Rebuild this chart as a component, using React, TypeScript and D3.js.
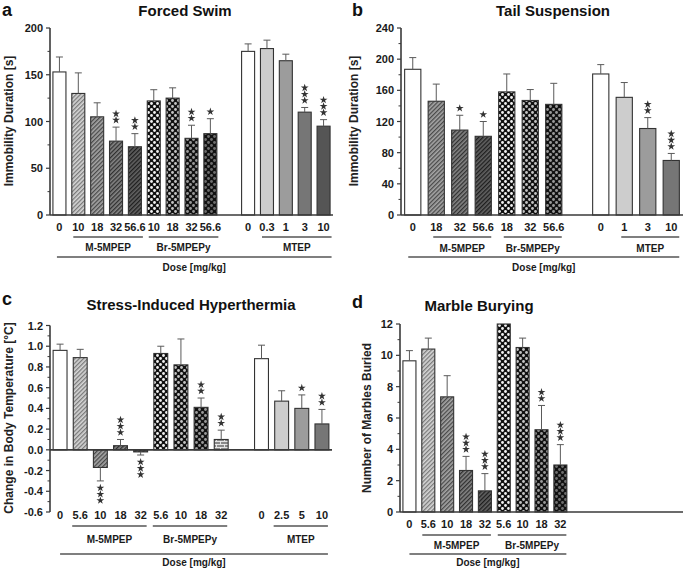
import React from "react";
import * as d3 from "d3";

const FONT = "'Liberation Sans', Arial, Helvetica, sans-serif";

// ---------- Panel a: Forced Swim ----------
const aDoses = ["0", "10", "18", "32", "56.6", "10", "18", "32", "56.6", "", "0", "0.3", "1", "3", "10"];
const aMeans = [153, 130, 105, 79, 73, 122, 125, 82, 87, null, 175, 178, 165, 110, 95];
const aErrTop = [169, 152, 120, 94, 87, 134, 136, 96, 103, null, 183, 187, 172, 115, 102];
const aStars = [0, 0, 0, 2, 2, 0, 0, 2, 1, 0, 0, 0, 0, 3, 3];
const aFills = ["white", "m1", "m2", "m3", "m4", "b1", "b2", "b3", "b4", "", "white", "g1", "g2", "g3", "g4"];
const aTicks = [0, 50, 100, 150, 200];

// ---------- Panel b: Tail Suspension ----------
const bDoses = ["0", "18", "32", "56.6", "18", "32", "56.6", "", "0", "1", "3", "10"];
const bMeans = [187, 146, 109, 101, 158, 147, 142, null, 181, 151, 111, 70];
const bErrTop = [202, 168, 128, 120, 181, 161, 169, null, 193, 170, 125, 79];
const bStars = [0, 0, 1, 1, 0, 0, 0, 0, 0, 0, 2, 3];
const bFills = ["white", "m2", "m3", "m4", "b1", "b2", "b3", "", "white", "g1", "g2", "g3"];
const bTicks = [0, 40, 80, 120, 160, 200, 240];

// ---------- Panel c: Stress-Induced Hyperthermia ----------
const cDoses = ["0", "5.6", "10", "18", "32", "5.6", "10", "18", "32", "", "0", "2.5", "5", "10"];
const cMeans = [0.96, 0.89, -0.17, 0.04, -0.02, 0.93, 0.82, 0.41, 0.1, null, 0.88, 0.47, 0.4, 0.25];
const cErrEnd = [1.02, 0.97, -0.3, 0.1, -0.05, 1.0, 1.07, 0.5, 0.19, null, 1.01, 0.57, 0.53, 0.39];
const cStars = [0, 0, 3, 3, 3, 0, 0, 2, 2, 0, 0, 0, 1, 2];
const cFills = ["white", "m1", "m2", "m3", "m4", "b1", "b2", "b3", "brick", "", "white", "g1", "g2", "g3"];
const cTicks = [-0.6, -0.4, -0.2, 0, 0.2, 0.4, 0.6, 0.8, 1.0, 1.2];

// ---------- Panel d: Marble Burying ----------
const dDoses = ["0", "5.6", "10", "18", "32", "5.6", "10", "18", "32"];
const dMeans = [9.65, 10.4, 7.35, 2.65, 1.35, 12.0, 10.5, 5.25, 3.0];
const dErrTop = [10.3, 11.1, 8.7, 3.55, 2.45, 12.0, 11.1, 6.8, 4.3];
const dStars = [0, 0, 0, 3, 3, 0, 0, 2, 3];
const dFills = ["white", "m1", "m2", "m3", "m4", "b1", "b2", "b3", "b4"];
const dTicks = [0, 2, 4, 6, 8, 10, 12];

type Group = { label: string; from: number; to: number };

type Cfg = {
  id: string;
  letter: string;
  title: string;
  yLabel: string;
  doses: string[];
  means: (number | null)[];
  errs: (number | null)[];
  stars: number[];
  fills: string[];
  ticks: number[];
  decimals: number;
  slots: number;
  x0: number;
  x1: number;
  yTop: number;
  yBottom: number;
  groups: Group[];
  letterPos: [number, number];
  titlePos: [number, number];
  yLabelPos: [number, number];
  tickLabelY: number;
  groupLineY: number;
  groupLabelY: number;
  doseLineY: number;
  doseLabelY: number;
  padL: number;
  padR: number;
  doseStart: number;
};

const panels: Cfg[] = [
  {
    id: "a", letter: "a", title: "Forced Swim", yLabel: "Immobility Duration [s]",
    doses: aDoses, means: aMeans, errs: aErrTop, stars: aStars, fills: aFills, ticks: aTicks, decimals: 0,
    slots: 15, x0: 50, x1: 333, yTop: 28, yBottom: 215,
    groups: [{ label: "M-5MPEP", from: 1, to: 4 }, { label: "Br-5MPEPy", from: 5, to: 8 }, { label: "MTEP", from: 11, to: 14 }],
    letterPos: [2, 16], titlePos: [185, 16], yLabelPos: [9, 121],
    tickLabelY: 231, groupLineY: 237, groupLabelY: 251, doseLineY: 257, doseLabelY: 271,
    padL: 5, padR: 8, doseStart: 2.5,
  },
  {
    id: "b", letter: "b", title: "Tail Suspension", yLabel: "Immobility Duration [s]",
    doses: bDoses, means: bMeans, errs: bErrTop, stars: bStars, fills: bFills, ticks: bTicks, decimals: 0,
    slots: 12, x0: 401, x1: 683, yTop: 28, yBottom: 215,
    groups: [{ label: "M-5MPEP", from: 1, to: 3 }, { label: "Br-5MPEPy", from: 4, to: 6 }, { label: "MTEP", from: 9, to: 11 }],
    letterPos: [352, 16], titlePos: [553, 16], yLabelPos: [354, 121],
    tickLabelY: 231, groupLineY: 237, groupLabelY: 252, doseLineY: 257, doseLabelY: 271,
    padL: 3, padR: 8, doseStart: 4.5,
  },
  {
    id: "c", letter: "c", title: "Stress-Induced Hyperthermia", yLabel: "Change in Body Temperature [°C]",
    doses: cDoses, means: cMeans, errs: cErrEnd, stars: cStars, fills: cFills, ticks: cTicks, decimals: 1,
    slots: 14, x0: 50, x1: 332, yTop: 325.5, yBottom: 512,
    groups: [{ label: "M-5MPEP", from: 1, to: 4 }, { label: "Br-5MPEPy", from: 5, to: 8 }, { label: "MTEP", from: 11, to: 13 }],
    letterPos: [2, 305], titlePos: [191, 310], yLabelPos: [9, 418],
    tickLabelY: 519, groupLineY: 526, groupLabelY: 543, doseLineY: 554, doseLabelY: 566,
    padL: 8, padR: 6, doseStart: 0,
  },
  {
    id: "d", letter: "d", title: "Marble Burying", yLabel: "Number of Marbles Buried",
    doses: dDoses, means: dMeans, errs: dErrTop, stars: dStars, fills: dFills, ticks: dTicks, decimals: 0,
    slots: 15, x0: 400, x1: 683, yTop: 324, yBottom: 512,
    groups: [{ label: "M-5MPEP", from: 1, to: 4 }, { label: "Br-5MPEPy", from: 5, to: 8 }],
    letterPos: [352, 308], titlePos: [479, 311], yLabelPos: [367, 418],
    tickLabelY: 528, groupLineY: 535, groupLabelY: 549, doseLineY: 554, doseLabelY: 566,
    padL: 6, padR: 6, doseStart: 0,
  },
];

const starPath = d3.symbol().type(d3.symbolStar).size(19)() as string;

function fillFor(f: string) {
  if (f === "white") return "#ffffff";
  if (f === "g1") return "#cdcdcd";
  if (f === "g2") return "#9c9c9c";
  if (f === "g3") return "#767676";
  if (f === "g4") return "#555555";
  return `url(#pat-${f})`;
}

function Defs() {
  const hatch = [
    ["m1", "#d6d6d6", "#7a7a7a"],
    ["m2", "#a6a6a6", "#4a4a4a"],
    ["m3", "#858585", "#303030"],
    ["m4", "#626262", "#1e1e1e"],
  ];
  const dots = [
    ["b1", "#f2f2f2"],
    ["b2", "#c4c4c4"],
    ["b3", "#9a9a9a"],
    ["b4", "#6e6e6e"],
  ];
  return (
    <defs>
      {hatch.map(([id, bg, fg]) => (
        <pattern key={id} id={`pat-${id}`} patternUnits="userSpaceOnUse" width={3} height={3} patternTransform="rotate(45)">
          <rect width={3} height={3} fill={bg} />
          <rect width={1.3} height={3} fill={fg} />
        </pattern>
      ))}
      {dots.map(([id, dc]) => (
        <pattern key={id} id={`pat-${id}`} patternUnits="userSpaceOnUse" width={6} height={6}>
          <rect width={6} height={6} fill="#111" />
          <circle cx={1.5} cy={1.5} r={1.4} fill={dc} />
          <circle cx={4.5} cy={4.5} r={1.4} fill={dc} />
        </pattern>
      ))}
      <pattern id="pat-brick" patternUnits="userSpaceOnUse" width={8} height={6}>
        <rect width={8} height={6} fill="#8a8a8a" />
        <rect x={0} y={0} width={8} height={0.9} fill="#eee" />
        <rect x={0} y={3} width={8} height={0.9} fill="#eee" />
        <rect x={0} y={0} width={0.9} height={3} fill="#eee" />
        <rect x={4} y={3} width={0.9} height={3} fill="#eee" />
      </pattern>
    </defs>
  );
}

function Panel({ cfg }: { cfg: Cfg }) {
  const x = d3.scaleBand<number>().domain(d3.range(cfg.slots)).range([cfg.x0, cfg.x1]);
  const dom = d3.extent(cfg.ticks) as [number, number];
  const y = d3.scaleLinear().domain(dom).range([cfg.yBottom, cfg.yTop]);
  const bw = x.bandwidth() * 0.69;
  const cx = (i: number) => (x(i) as number) + x.bandwidth() / 2;
  const y0 = y(0);
  const tickStep = cfg.ticks[1] - cfg.ticks[0];
  const minors = cfg.ticks.slice(0, -1).map((t) => t + tickStep / 2);
  const axisColor = "#3a3a3a";
  const lastGroup = cfg.groups[cfg.groups.length - 1];
  const doseX0 = cx(0) - cfg.doseStart;
  const doseX1 = cx(lastGroup.to) + cfg.padR;
  const fmt = (v: number) => (cfg.decimals ? v.toFixed(cfg.decimals) : String(v));

  return (
    <g>
      <text x={cfg.letterPos[0]} y={cfg.letterPos[1]} fontFamily={FONT} fontWeight="bold" fontSize={18} fill="#111">
        {cfg.letter}
      </text>
      <text x={cfg.titlePos[0]} y={cfg.titlePos[1]} textAnchor="middle" fontFamily={FONT} fontWeight="bold" fontSize={15} fill="#111">
        {cfg.title}
      </text>
      <text
        transform={`translate(${cfg.yLabelPos[0]},${cfg.yLabelPos[1]}) rotate(-90)`}
        textAnchor="middle"
        dominantBaseline="central"
        fontFamily={FONT}
        fontWeight="bold"
        fontSize={12}
        fill="#222"
      >
        {cfg.yLabel}
      </text>

      {/* bars */}
      {cfg.means.map((m, i) => {
        if (m === null || m === undefined) return null;
        const top = Math.min(y(m), y0);
        const h = Math.abs(y(m) - y0);
        return (
          <rect key={`bar${i}`} x={cx(i) - bw / 2} y={top} width={bw} height={h} fill={fillFor(cfg.fills[i])} stroke="#333" strokeWidth={1.1} />
        );
      })}

      {/* error bars */}
      {cfg.means.map((m, i) => {
        const e = cfg.errs[i];
        if (m === null || e === null || e === m) return null;
        return (
          <g key={`err${i}`} stroke="#5a5a5a" strokeWidth={1}>
            <line x1={cx(i)} x2={cx(i)} y1={y(m)} y2={y(e)} />
            <line x1={cx(i) - 3.5} x2={cx(i) + 3.5} y1={y(e)} y2={y(e)} />
          </g>
        );
      })}

      {/* significance stars */}
      {cfg.stars.map((n, i) => {
        const m = cfg.means[i];
        const e = cfg.errs[i];
        if (!n || m === null || e === null) return null;
        const dir = e < m || (e === m && m < 0) ? 1 : -1;
        const base = y(e);
        return (
          <g key={`st${i}`} fill="#333">
            {d3.range(n).map((k) => (
              <path key={k} d={starPath} transform={`translate(${cx(i)},${base + dir * (7 + k * 6.3)})`} />
            ))}
          </g>
        );
      })}

      {/* y axis */}
      <line x1={cfg.x0} x2={cfg.x0} y1={y(dom[0])} y2={y(dom[1])} stroke={axisColor} strokeWidth={1.6} />
      {cfg.ticks.map((t) => (
        <g key={`yt${t}`}>
          <line x1={cfg.x0 - 4} x2={cfg.x0} y1={y(t)} y2={y(t)} stroke={axisColor} strokeWidth={1.2} />
          <text x={cfg.x0 - 7} y={y(t)} textAnchor="end" dominantBaseline="central" fontFamily={FONT} fontWeight="bold" fontSize={11} fill="#1a1a1a">
            {fmt(t)}
          </text>
        </g>
      ))}
      {minors.map((t) => (
        <line key={`ym${t}`} x1={cfg.x0 - 2.5} x2={cfg.x0} y1={y(t)} y2={y(t)} stroke={axisColor} strokeWidth={1} />
      ))}

      {/* x axis at zero */}
      <line x1={cfg.x0} x2={cfg.x1} y1={y0} y2={y0} stroke={axisColor} strokeWidth={1.6} />

      {/* dose tick labels */}
      {cfg.doses.map((dlab, i) =>
        dlab ? (
          <text key={`xl${i}`} x={cx(i)} y={cfg.tickLabelY} textAnchor="middle" fontFamily={FONT} fontWeight="bold" fontSize={11} fill="#1a1a1a">
            {dlab}
          </text>
        ) : null
      )}

      {/* compound groups */}
      {cfg.groups.map((g) => {
        const gx0 = cx(g.from) - cfg.padL;
        const gx1 = cx(g.to) + cfg.padR;
        return (
          <g key={g.label}>
            <line x1={gx0} x2={gx1} y1={cfg.groupLineY} y2={cfg.groupLineY} stroke="#555" strokeWidth={1.4} />
            <text x={(gx0 + gx1) / 2} y={cfg.groupLabelY} textAnchor="middle" fontFamily={FONT} fontWeight="bold" fontSize={10} fill="#1a1a1a">
              {g.label}
            </text>
          </g>
        );
      })}

      <line x1={doseX0} x2={doseX1} y1={cfg.doseLineY} y2={cfg.doseLineY} stroke="#555" strokeWidth={1.4} />
      <text x={(doseX0 + doseX1) / 2} y={cfg.doseLabelY} textAnchor="middle" fontFamily={FONT} fontWeight="bold" fontSize={10} fill="#1a1a1a">
        Dose [mg/kg]
      </text>
    </g>
  );
}

export default function App() {
  return (
    <svg
      width={685}
      height={571}
      viewBox="0 0 685 571"
      style={{ position: "absolute", left: 0, top: 0, background: "#fff" }}
    >
      <Defs />
      <rect width={685} height={571} fill="#fff" />
      {panels.map((p) => (
        <Panel key={p.id} cfg={p} />
      ))}
    </svg>
  );
}
